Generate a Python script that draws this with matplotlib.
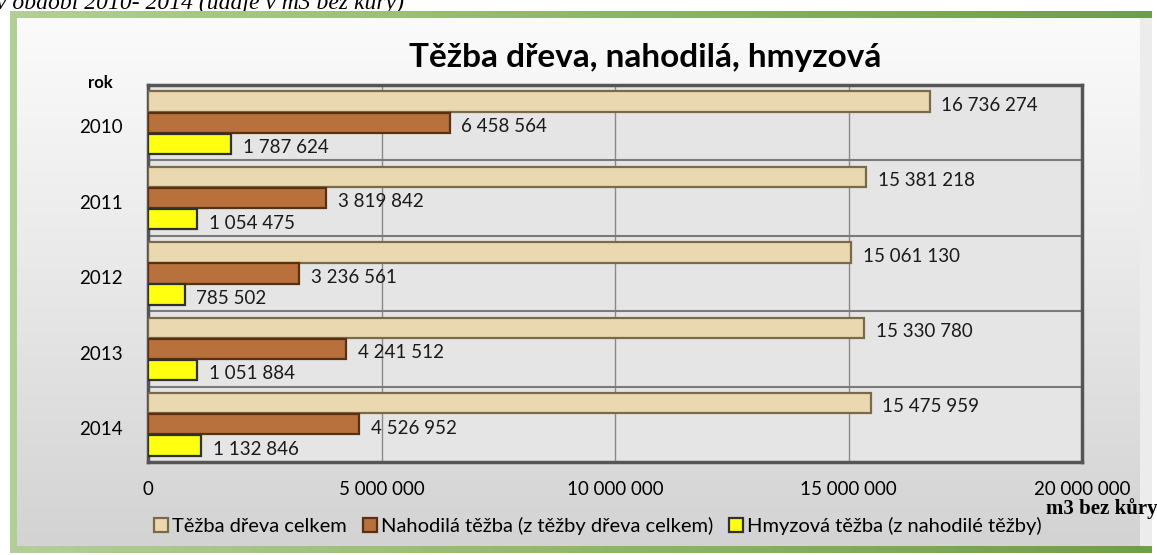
import matplotlib
matplotlib.use("Agg")
import matplotlib.pyplot as plt
import numpy as np
from matplotlib.patches import Rectangle
from matplotlib.colors import LinearSegmentedColormap

years = ["2010", "2011", "2012", "2013", "2014"]
total = [16736274, 15381218, 15061130, 15330780, 15475959]
random_ = [6458564, 3819842, 3236561, 4241512, 4526952]
insect = [1787624, 1054475, 785502, 1051884, 1132846]
series_names = ["Těžba dřeva celkem", "Nahodilá těžba (z těžby dřeva celkem)",
                "Hmyzová těžba (z nahodilé těžby)"]
xticks = [0, 5000000, 10000000, 15000000, 20000000]

W, H = 1157, 555
fig = plt.figure(figsize=(W / 100, H / 100), dpi=100)
fig.patch.set_facecolor("white")

# background frame in pixel coords
bg = fig.add_axes([0, 0, 1, 1])
bg.set_xlim(0, W)
bg.set_ylim(H, 0)
bg.axis("off")
grad = np.linspace(0, 1, 256).reshape(1, -1)
gcm = LinearSegmentedColormap.from_list("g", ["#b3cf98", "#8fb866", "#6f9f45"])
bg.imshow(grad, cmap=gcm, extent=[10, 1152, 553, 11], aspect="auto", zorder=2)
vg = np.linspace(0, 1, 256).reshape(-1, 1)
pcm = LinearSegmentedColormap.from_list("p", ["#fbfbfb", "#e8e8e8", "#d3d3d3"])
bg.imshow(vg, cmap=pcm, extent=[17, 1140, 546, 18], aspect="auto", zorder=3)
bg.add_patch(Rectangle((1140, 18), 12, 528, facecolor="#ececec", edgecolor="none", zorder=3))
bg.text(-4, 9, "v období 2010- 2014 (údaje v m3 bez kůry)", family="Liberation Serif",
        style="italic", fontsize=17, ha="left", va="baseline", zorder=1)

# main axes
left, right, top, bottom = 148, 1082, 85, 462
ax = fig.add_axes([left / W, 1 - bottom / H, (right - left) / W, (bottom - top) / H])
ax.set_facecolor("#e5e5e5")

n = len(years)
y = np.arange(n)
h = 0.27
styles = [
    dict(color="#ead8b0", edgecolor="#7a6a4a"),
    dict(color="#b8703c", edgecolor="#5a3010"),
    dict(color="#ffff10", edgecolor="#303030"),
]
for k, vals in enumerate([total, random_, insect]):
    pos = y + (k - 1) * h * 1.04
    ax.barh(pos, vals, height=h, label=series_names[k], linewidth=1.6, zorder=3, **styles[k])
    for p, v in zip(pos, vals):
        ax.text(v + 250000, p + 0.05, f"{v:,}".replace(",", " "), family="Lato",
                fontsize=13.5, va="center", ha="left", color="#1a1a1a", zorder=4)

for b in np.arange(n - 1) + 0.5:
    ax.axhline(b, color="#7a7a7a", lw=1.5, zorder=2)

ax.set_xlim(0, 20000000)
ax.set_ylim(n - 0.5, -0.5)
ax.set_xticks(xticks)
ax.set_xticklabels([f"{t:,}".replace(",", " ") for t in xticks], family="Lato", fontsize=13.5)
ax.set_yticks(y + 0.05)
ax.set_yticklabels(years, family="Lato", fontsize=13.5)
ax.tick_params(axis="x", length=0, pad=14)
ax.tick_params(axis="y", length=0, pad=18)
ax.grid(axis="x", color="#8a8a8a", lw=1, zorder=1)
for s in ax.spines.values():
    s.set_color("#555555")
    s.set_linewidth(2.5)

fig.text(100 / W, 1 - 83 / H, "rok", family="Lato", fontweight="bold", fontsize=12,
         ha="center", va="center")
fig.text(645 / W, 1 - 57 / H, "Těžba dřeva, nahodilá, hmyzová", family="Lato",
         fontweight="bold", fontsize=24, ha="center", va="center")
fig.text(1158 / W, 1 - 509 / H, "m3 bez kůry", family="Liberation Serif",
         fontweight="bold", fontsize=15, ha="right", va="center")

leg = fig.legend(loc="center", bbox_to_anchor=(598 / W, 1 - 526 / H), ncol=3,
                 frameon=False, prop=dict(family="Lato", size=14.5),
                 handlelength=0.7, handleheight=0.7, handletextpad=0.2,
                 columnspacing=0.8)

fig.savefig("out.png", dpi=100)
